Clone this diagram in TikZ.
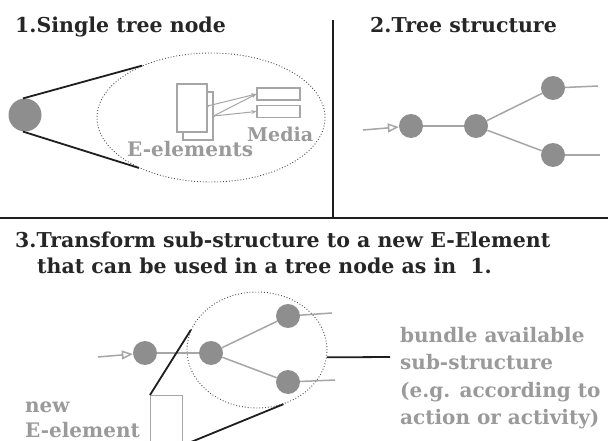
\documentclass[tikz,border=0pt]{standalone}
\usepackage{fontspec}
\setmainfont{DejaVu Serif}
\usetikzlibrary{arrows.meta,shapes.geometric}
\definecolor{nodegray}{HTML}{8E8E8E}
\definecolor{linegray}{HTML}{A6A6A6}
\definecolor{textgray}{HTML}{9A9A9A}
\definecolor{ink}{HTML}{1E1E1E}
\begin{document}
\begin{tikzpicture}[x=1pt,y=-1pt,
  treenode/.style={circle,fill=nodegray,draw=none,minimum size=24pt,inner sep=0pt},
  bignode/.style={treenode,minimum size=33pt},
  branch/.style={draw=linegray,line width=1.5pt},
  heavy/.style={draw=ink,line width=1.8pt},
  bubble/.style={ellipse,draw=black!70,dotted,line width=0.9pt,inner sep=0pt},
  title/.style={font=\bfseries\fontsize{20.5}{24}\selectfont,text=black!85,anchor=base west,inner sep=0pt},
  graytext/.style={font=\bfseries\fontsize{20}{24}\selectfont,text=textgray,anchor=base west,inner sep=0pt},
  elem/.style={rectangle,draw=linegray,line width=1.2pt,fill=white,inner sep=0pt},
  tip/.style={-{Stealth[length=5pt,width=4pt]}},
  opentip/.style={-{Triangle[open,length=11pt,width=9pt]}},
]
\clip (0,0) rectangle (608,441);
\fill[white] (0,0) rectangle (608,441);

% dividers
\coordinate (vtop) at (333,20);
\coordinate (vbot) at (333,218);
\coordinate (hl) at (0,218);
\coordinate (hr) at (608,218);
\draw[heavy] (vtop) -- (vbot);
\draw[heavy] (hl) -- (hr);

% ---------- 1. single tree node
\node[title] (title1) at (15,33) {1.Single tree node};
\node[bignode] (big) at (25,115) {};
\node[bubble,minimum width=228pt,minimum height=129pt] (zoomell) at (211,117.5) {};
\draw[heavy] (big.97) -- (zoomell.143);
\draw[heavy] (big.263) -- (zoomell.215);
\node[elem,minimum width=30pt,minimum height=48pt] (eback) at (198,116) {};
\node[elem,minimum width=30pt,minimum height=48pt] (efront) at (192,108) {};
\node[elem,minimum width=43pt,minimum height=12pt] (media1) at (278.5,94) {};
\node[elem,minimum width=43pt,minimum height=12pt] (media2) at (278.5,111.5) {};
\coordinate (pf) at ([yshift=2pt]efront.east);
\coordinate (pb) at (eback.east);
\fill[linegray] (pf) circle (1.5pt) (pb) circle (1.5pt);
\draw[branch,line width=1pt,tip] (pf) -- (media1.west);
\draw[branch,line width=1pt,tip] (pb) -- (media1.west);
\draw[branch,line width=1pt,tip] (pb) -- (media2.west);
\node[graytext,font=\bfseries\fontsize{19}{24}\selectfont] (medialbl) at (247,142) {Media};
\node[graytext] (elemlbl) at (127,157) {E-elements};

% ---------- 2. tree structure
\node[title] (title2) at (370,33) {2.Tree structure};
\node[treenode] (t1) at (411,126) {};
\node[treenode] (t2) at (476,126) {};
\node[treenode] (t3) at (553,88) {};
\node[treenode] (t4) at (553,155) {};
\coordinate (t0) at (363,130);
\coordinate (t3e) at (598,86);
\coordinate (t4e) at (600,155);
\draw[branch,opentip] (t0) -- (t1);
\draw[branch] (t1) -- (t2);
\draw[branch] (t2) -- (t3);
\draw[branch] (t2) -- (t4);
\draw[branch] (t3) -- (t3e);
\draw[branch] (t4) -- (t4e);

% ---------- 3. transform
\node[title] (title3a) at (15,247) {3.Transform sub-structure to a new E-Element};
\node[title] (title3b) at (37,273) {that can be used in a tree node as in\ \ 1.};

\node[bubble,minimum width=140pt,minimum height=116pt] (bund) at (257,350) {};
\node[treenode] (sa) at (145,353) {};
\node[treenode] (sb) at (211,353) {};
\node[treenode] (sc) at (288,316) {};
\node[treenode] (sd) at (288,382) {};
\coordinate (s0) at (98,357);
\coordinate (sce) at (332,313);
\coordinate (sde) at (335,380);
\draw[branch,opentip] (s0) -- (sa);
\draw[branch] (sa) -- (sb);
\draw[branch] (sb) -- (sc);
\draw[branch] (sb) -- (sd);
\draw[branch] (sc) -- (sce);
\draw[branch] (sd) -- (sde);

\coordinate (bunend) at (390,357);
\draw[heavy] (bund.-6) -- (bunend);

\node[elem,anchor=north west,minimum width=32pt,minimum height=49pt] (newel) at (150,395) {};
\draw[heavy] (newel.north west) -- (bund.163);
\draw[heavy] (newel.south east) -- (bund.-64);

\node[graytext] (nw1) at (25,412) {new};
\node[graytext] (nw2) at (25,437) {E-element};

\node[graytext] (bl1) at (400,342) {bundle available};
\node[graytext] (bl2) at (400,369.5) {sub-structure};
\node[graytext] (bl3) at (400,397) {(e.g. according to};
\node[graytext] (bl4) at (400,424.5) {action or activity)};
\end{tikzpicture}
\end{document}
